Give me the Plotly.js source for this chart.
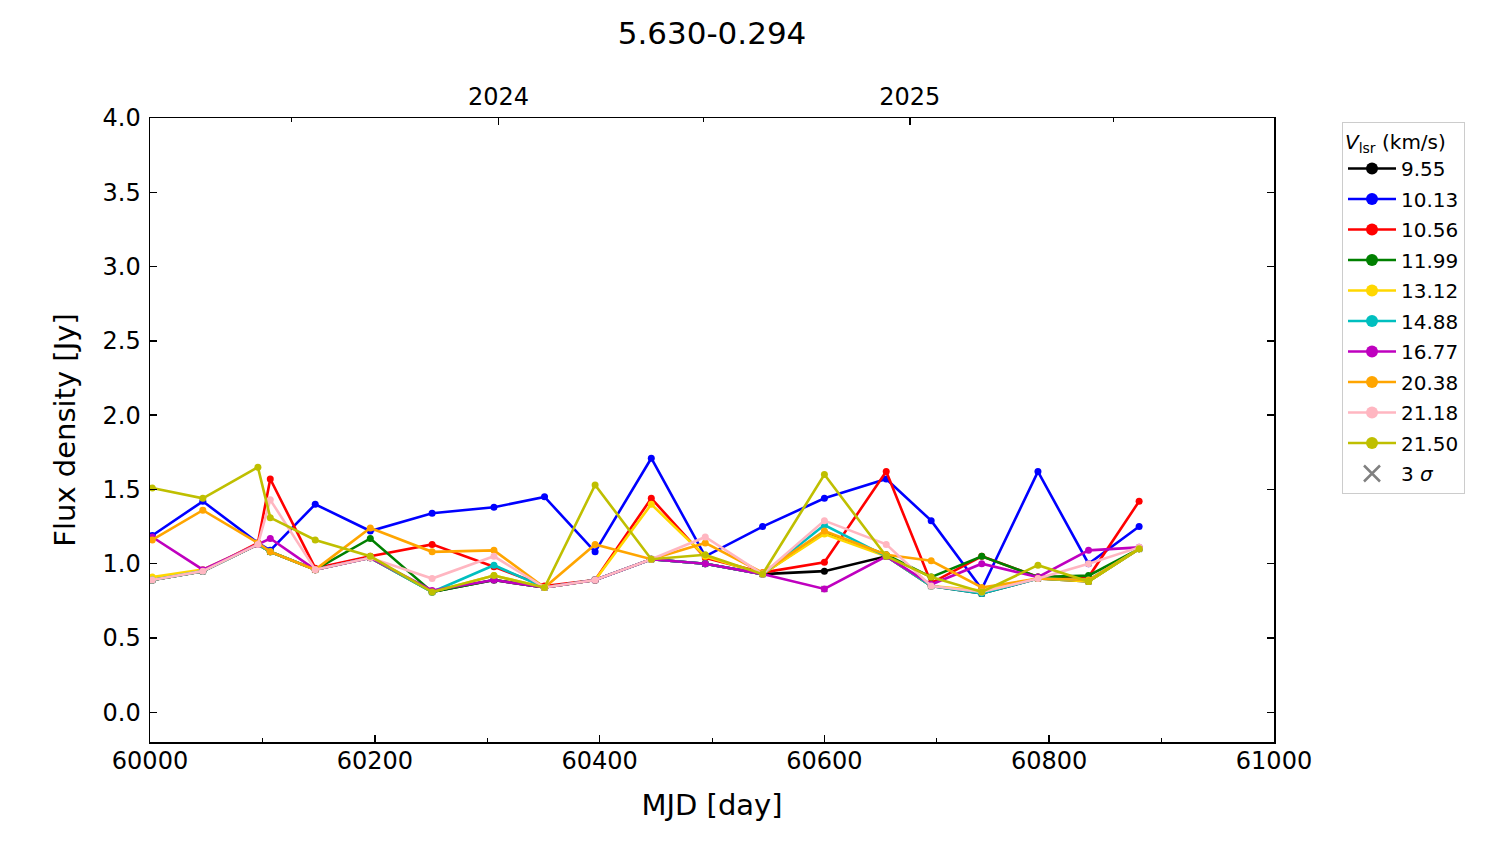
<!DOCTYPE html>
<html>
<head>
<meta charset="utf-8">
<script src="https://cdn.plot.ly/plotly-3.0.1.min.js"></script>
<style>
  html, body { margin: 0; padding: 0; background: #fff; }
  #plot { width: 1500px; height: 844px; }
</style>
</head>
<body>
<div id="plot"></div>
<script>
// observation epochs (MJD)
var mjd = [60002, 60047, 60096, 60107, 60147, 60196, 60251, 60306, 60351, 60396,
           60446, 60494, 60545, 60600, 60655, 60695, 60740, 60790, 60835, 60880];

// 3 sigma level per epoch
var sigma3 = [0.89, 0.95, 1.13, 1.08, 0.96, 1.04, 0.81, 0.89, 0.84, 0.89,
              1.03, 1.00, 0.93, 0.83, 1.05, 0.85, 0.80, 0.90, 0.88, 1.10];

// flux density per velocity channel [Jy]
var v955  = [0.89, 0.95, 1.13, 1.08, 0.96, 1.04, 0.81, 0.89, 0.84, 0.89,
             1.03, 1.00, 0.93, 0.95, 1.05, 0.85, 0.80, 0.90, 0.88, 1.10];
var v1013 = [1.19, 1.42, 1.14, 1.09, 1.40, 1.22, 1.34, 1.38, 1.45, 1.08,
             1.71, 1.05, 1.25, 1.44, 1.57, 1.29, 0.83, 1.62, 1.00, 1.25];
var v1056 = [0.89, 0.95, 1.14, 1.57, 0.97, 1.05, 1.13, 0.98, 0.85, 0.89,
             1.44, 1.04, 0.94, 1.01, 1.62, 0.87, 1.05, 0.91, 0.91, 1.42];
var v1199 = [0.89, 0.95, 1.13, 1.08, 0.96, 1.17, 0.81, 0.89, 0.84, 0.89,
             1.03, 1.00, 0.93, 1.21, 1.06, 0.91, 1.05, 0.91, 0.92, 1.10];
var v1312 = [0.91, 0.96, 1.13, 1.08, 0.96, 1.04, 0.81, 0.92, 0.84, 0.89,
             1.40, 1.05, 0.93, 1.20, 1.05, 0.85, 0.82, 0.90, 0.88, 1.10];
var v1488 = [0.89, 0.95, 1.13, 1.08, 0.96, 1.04, 0.81, 0.99, 0.84, 0.89,
             1.03, 1.00, 0.93, 1.26, 1.05, 0.85, 0.80, 0.90, 0.89, 1.10];
var v1677 = [1.18, 0.96, 1.13, 1.17, 0.96, 1.04, 0.82, 0.89, 0.84, 0.89,
             1.03, 1.00, 0.93, 0.83, 1.05, 0.86, 1.00, 0.91, 1.09, 1.11];
var v2038 = [1.16, 1.36, 1.14, 1.08, 0.96, 1.24, 1.08, 1.09, 0.84, 1.13,
             1.03, 1.14, 0.94, 1.22, 1.06, 1.02, 0.84, 0.90, 0.89, 1.10];
var v2118 = [0.89, 0.95, 1.13, 1.43, 0.96, 1.04, 0.90, 1.05, 0.84, 0.89,
             1.03, 1.18, 0.93, 1.29, 1.13, 0.85, 0.81, 0.90, 1.00, 1.11];
var v2150 = [1.51, 1.44, 1.65, 1.31, 1.16, 1.05, 0.81, 0.92, 0.84, 1.53,
             1.03, 1.06, 0.93, 1.60, 1.05, 0.91, 0.81, 0.99, 0.88, 1.10];

var velocities = ["9.55", "10.13", "10.56", "11.99", "13.12", "14.88", "16.77", "20.38", "21.18", "21.50"];
var seriesList = [v955, v1013, v1056, v1199, v1312, v1488, v1677, v2038, v2118, v2150];
var colors = ["#000000", "#0000ff", "#ff0000", "#008000", "#ffd700",
              "#00bfbf", "#bf00bf", "#ffa500", "#ffb6c1", "#bfbf00"];

// top axis: 1 Jan of each year (MJD), half-year minor ticks
var yearTicks = [60310, 60676];
var yearLabels = ["2024", "2025"];
var yearMinor = [60126, 60492, 60857];

var font = "DejaVu Sans";
var data = [];

// 3 sigma crosses go underneath everything
data.push({
  x: mjd, y: sigma3, type: "scatter", mode: "markers",
  marker: {symbol: "x-thin-open", size: 6, color: "#808080", line: {color: "#808080", width: 1.5}},
  showlegend: false, hoverinfo: "skip"
});

seriesList.forEach(function(vals, i){
  data.push({
    x: mjd, y: vals, type: "scatter", mode: "lines+markers",
    name: velocities[i],
    line: {color: colors[i], width: 2.6},
    marker: {color: colors[i], size: 7},
    showlegend: false
  });
});

// legend entries (bigger symbols like the reference)
seriesList.forEach(function(vals, i){
  data.push({
    x: [null], y: [null], type: "scatter", mode: "lines+markers",
    name: velocities[i], legendgroup: "g" + i,
    line: {color: colors[i], width: 2.6},
    marker: {color: colors[i], size: 12}
  });
});
data.push({
  x: [null], y: [null], type: "scatter", mode: "markers", xaxis: "x2",
  name: "3 <i>σ</i>", legendgroup: "sig",
  marker: {symbol: "x-thin-open", size: 16, color: "#808080", line: {color: "#808080", width: 2.5}}
});

var layout = {
  width: 1500, height: 844,
  paper_bgcolor: "#fff", plot_bgcolor: "#fff",
  margin: {l: 150, r: 226, t: 118, b: 102},
  font: {family: font, size: 24, color: "#000"},
  title: {text: "5.630-0.294", font: {family: font, size: 31}, x: 0.5, xref: "paper",
          y: 0.961, yref: "container", yanchor: "middle"},
  showlegend: true,
  legend: {
    x: 1.0605, y: 0.9936, xanchor: "left", yanchor: "top",
    bordercolor: "#cccccc", borderwidth: 1,
    itemwidth: 48, tracegroupgap: 1.5,
    font: {family: font, size: 20},
    title: {text: "<i>V</i><sub>lsr</sub> (km/s)", font: {family: font, size: 20}, side: "top"}
  },
  xaxis: {
    range: [60000, 61000], tickmode: "linear", tick0: 60000, dtick: 200, tickformat: "d",
    showline: true, mirror: true, linecolor: "#000", linewidth: 1.5,
    ticks: "inside", ticklen: 7, tickwidth: 1.5, tickcolor: "#000",
    minor: {tickmode: "linear", tick0: 60000, dtick: 100, ticks: "inside", ticklen: 4, tickwidth: 1, tickcolor: "#000"},
    showgrid: false, zeroline: false,
    ticklabelstandoff: -3,
    tickfont: {family: font, size: 24},
    title: {text: "MJD [day]", font: {family: font, size: 29}, standoff: 20}
  },
  xaxis2: {
    overlaying: "x", side: "top", range: [60000, 61000],
    tickmode: "array", tickvals: yearTicks, ticktext: yearLabels,
    ticks: "inside", ticklen: 7, tickwidth: 1.5, tickcolor: "#000",
    minor: {tickmode: "array", tickvals: yearMinor, ticks: "inside", ticklen: 4, tickwidth: 1, tickcolor: "#000"},
    showline: false, showgrid: false, zeroline: false,
    ticklabelstandoff: 7,
    tickfont: {family: font, size: 24}
  },
  yaxis: {
    range: [-0.2, 4.0], tickmode: "linear", tick0: 0, dtick: 0.5, tickformat: ".1f",
    showline: true, mirror: "ticks", linecolor: "#000", linewidth: 1.5,
    ticks: "inside", ticklen: 7, tickwidth: 1.5, tickcolor: "#000",
    showgrid: false, zeroline: false,
    ticklabelstandoff: 3,
    tickfont: {family: font, size: 24},
    title: {text: "Flux density [Jy]", font: {family: font, size: 29}, standoff: 18}
  }
};

Plotly.newPlot("plot", data, layout, {displayModeBar: false, staticPlot: true});
</script>
</body>
</html>
